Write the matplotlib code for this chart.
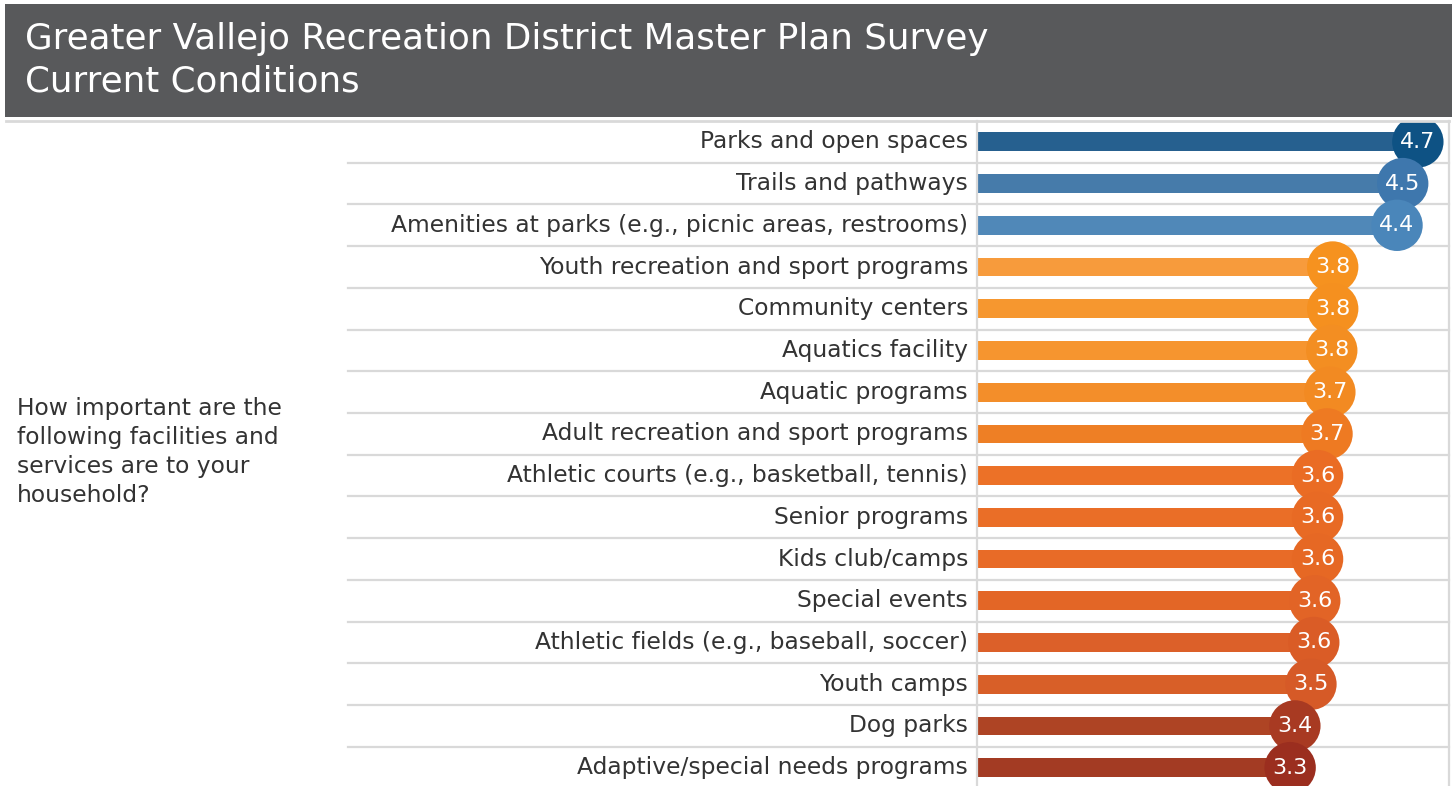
import matplotlib.pyplot as plt
from matplotlib.lines import Line2D
from matplotlib.patches import Rectangle

TITLE = "Greater Vallejo Recreation District Master Plan Survey\nCurrent Conditions"
QUESTION = "How important are the\nfollowing facilities and\nservices are to your\nhousehold?"

categories = [
    "Parks and open spaces",
    "Trails and pathways",
    "Amenities at parks (e.g., picnic areas, restrooms)",
    "Youth recreation and sport programs",
    "Community centers",
    "Aquatics facility",
    "Aquatic programs",
    "Adult recreation and sport programs",
    "Athletic courts (e.g., basketball, tennis)",
    "Senior programs",
    "Kids club/camps",
    "Special events",
    "Athletic fields (e.g., baseball, soccer)",
    "Youth camps",
    "Dog parks",
    "Adaptive/special needs programs",
]
scores = [4.66, 4.50, 4.44, 3.76, 3.76, 3.75, 3.73, 3.70,
          3.60, 3.60, 3.60, 3.57, 3.56, 3.53, 3.36, 3.31]

bar_colors = ["#26608f", "#467baa", "#5088b8", "#f79b3c", "#f6972f", "#f6952f",
              "#f38e2a", "#ee7f25", "#ec7127", "#ea6e27", "#e86b27", "#e36626",
              "#dc6029", "#d85f28", "#ae4424", "#a33b23"]
dot_colors = ["#0e5284", "#3e77ad", "#4a86ba", "#f6921f", "#f5901f", "#f38e22",
              "#f28a22", "#ee7a22", "#ea6c24", "#e86a24", "#e66824", "#e26426",
              "#da5c26", "#d65a27", "#a83a22", "#9b2e1f"]

W, H = 1452, 786
GRID = "#d9d9d9"
TEXT = "#333333"
ROW_H = 41.72
TOP = 121
X0, X1 = 977, 1449
PX_PER_UNIT = 94.6

fig = plt.figure(figsize=(W / 100, H / 100), dpi=100)
fig.patch.set_facecolor("white")

# header banner
fig.add_artist(Rectangle((5 / W, 1 - 117 / H), 1 - 5 / W, 113 / H,
                         transform=fig.transFigure, facecolor="#58595b",
                         edgecolor="none"))
fig.text(25 / W, 1 - 60 / H, TITLE, color="white", fontsize=25.7,
         ha="left", va="center", linespacing=1.3)

fig.text(17 / W, 1 - 452 / H, QUESTION, color=TEXT, fontsize=16.8,
         ha="left", va="center", linespacing=1.32)

n = len(categories)
bottom_px = TOP + n * ROW_H
ax = fig.add_axes([X0 / W, (H - bottom_px) / H, (X1 - X0) / W, n * ROW_H / H])
ax.set_xlim(0, (X1 - X0) / PX_PER_UNIT)
ax.set_ylim(n - 0.5, -0.5)
ax.axis("off")

ypos = list(range(n))
ax.barh(ypos, scores, height=0.45, color=bar_colors, zorder=2)
ax.scatter(scores, ypos, s=37 ** 2, c=dot_colors, linewidths=0, zorder=3)
for y, v in zip(ypos, scores):
    ax.text(v, y, f"{v:.1f}", color="white", fontsize=16,
            ha="center", va="center", zorder=4)

# row separators running across the label column too
row_tf = ax.get_yaxis_transform()
for k in range(1, n):
    ax.add_line(Line2D([(348 - X0) / (X1 - X0), 1], [k - 0.5, k - 0.5],
                       transform=row_tf, color=GRID, lw=1.6,
                       clip_on=False, zorder=1))
fig.add_artist(Line2D([6 / W, X1 / W], [1 - TOP / H] * 2,
                      transform=fig.transFigure, color=GRID, lw=2))
for xp in (X0, X1):
    fig.add_artist(Line2D([xp / W] * 2, [0, 1 - TOP / H],
                          transform=fig.transFigure, color=GRID, lw=1.6))

for y, name in zip(ypos, categories):
    ax.text(-9 / PX_PER_UNIT, y, name, color=TEXT, fontsize=16.8,
            ha="right", va="center")

fig.savefig("out.png", dpi=100, facecolor="white")
